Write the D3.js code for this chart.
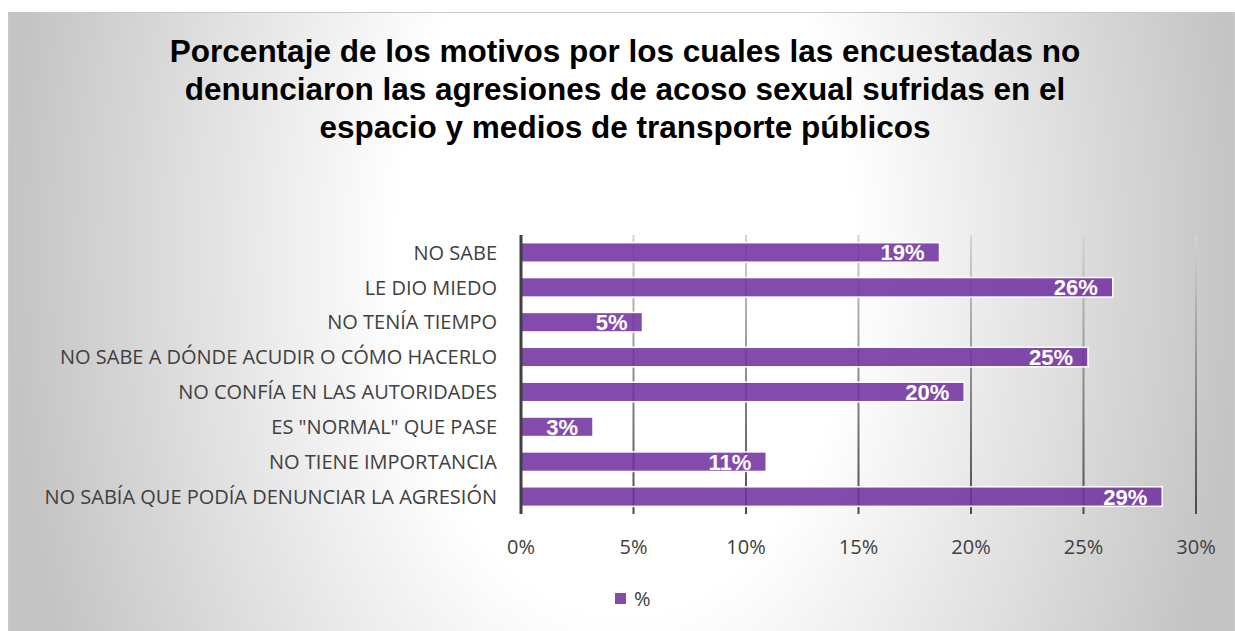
<!DOCTYPE html>
<html>
<head>
<meta charset="utf-8">
<script src="https://cdn.jsdelivr.net/npm/d3@7"></script>
<style>
  body { margin: 0; background: #fff; }
  svg { display: block; }
</style>
</head>
<body>
<svg width="1235" height="631"></svg>
<script>
var categories = [
    "NO SABE",
    "LE DIO MIEDO",
    "NO TENÍA TIEMPO",
    "NO SABE A DÓNDE ACUDIR O CÓMO HACERLO",
    "NO CONFÍA EN LAS AUTORIDADES",
    "ES \"NORMAL\" QUE PASE",
    "NO TIENE IMPORTANCIA",
    "NO SABÍA QUE PODÍA DENUNCIAR LA AGRESIÓN"
]
var values = [18.6, 26.3, 5.4, 25.2, 19.7, 3.2, 10.9, 28.5]
var ticks = [0, 5, 10, 15, 20, 25, 30]
var titleLines = [
    "Porcentaje de los motivos por los cuales las encuestadas no",
    "denunciaron las agresiones de acoso sexual sufridas en el",
    "espacio y medios de transporte públicos"
]
var seriesName = "%"

var svg = d3.select('svg'),
    width = 1235,
    height = 631,
    purple = '#7030a0',
    labelFont = '"Open Sans", sans-serif',
    boldFont = '"Liberation Sans", Arial, sans-serif'

var defs = svg.append('defs')

// background of the chart area: light in the middle, grey towards the edges
var bg = defs.append('radialGradient')
    .attr('id', 'bg')
    .attr('gradientUnits', 'userSpaceOnUse')
    .attr('cx', 625).attr('cy', 250).attr('r', 614)
    .attr('fx', 625).attr('fy', 250)
    .attr('gradientTransform', 'translate(625 250) scale(1 1.6) translate(-625 -250)')
bg.append('stop').attr('offset', 0).attr('stop-color', '#ffffff')
bg.append('stop').attr('offset', 0.37).attr('stop-color', '#ffffff')
bg.append('stop').attr('offset', 1).attr('stop-color', '#c4c4c4')

var x = d3.scaleLinear().domain([0, 30]).range([521, 1196])
var y = d3.scaleBand().domain(categories).range([235, 514])
    .paddingInner(0.44).paddingOuter(0.22)

var grid = defs.append('linearGradient')
    .attr('id', 'grid')
    .attr('gradientUnits', 'userSpaceOnUse')
    .attr('x1', 0).attr('y1', 235).attr('x2', 0).attr('y2', 514)
grid.append('stop').attr('offset', 0).attr('stop-color', '#d4d4d4')
grid.append('stop').attr('offset', 1).attr('stop-color', '#4a4a4a')

svg.append('rect')
    .attr('x', 8.5).attr('y', 12.5)
    .attr('width', width - 9).attr('height', height - 12)
    .attr('fill', 'url(#bg)')
    .attr('stroke', '#c8c8c8')

// title
svg.append('text')
    .attr('text-anchor', 'middle')
    .style('font-family', boldFont)
    .style('font-weight', 'bold')
    .style('font-size', '31.5px')
    .attr('fill', '#000')
    .selectAll('tspan')
    .data(titleLines)
    .enter().append('tspan')
    .attr('x', 625)
    .attr('y', (d, i) => 62 + i * 38)
    .text(d => d)

// gridlines
svg.append('g')
    .selectAll('line')
    .data(ticks.slice(1))
    .enter().append('line')
    .attr('x1', d => x(d)).attr('x2', d => x(d))
    .attr('y1', 235).attr('y2', 514)
    .attr('stroke', 'url(#grid)')
    .attr('stroke-width', 2)

// tick labels
svg.append('g')
    .selectAll('text')
    .data(ticks)
    .enter().append('text')
    .attr('x', d => x(d))
    .attr('y', 554)
    .attr('text-anchor', 'middle')
    .style('font-family', labelFont)
    .style('font-size', '20px')
    .attr('fill', '#404040')
    .text(d => d + '%')

// bars
var bar = svg.append('g')
    .selectAll('g')
    .data(values)
    .enter().append('g')

bar.append('rect')
    .attr('x', x(0))
    .attr('y', (d, i) => y(categories[i]))
    .attr('width', d => x(d) - x(0))
    .attr('height', y.bandwidth())
    .attr('fill', purple)
    .attr('fill-opacity', 0.87)
    .attr('stroke', '#fff')
    .attr('stroke-width', 1.5)

bar.append('text')
    .attr('x', d => x(d) - 15)
    .attr('y', (d, i) => y(categories[i]) + y.bandwidth() / 2 + 8)
    .attr('text-anchor', 'end')
    .style('font-family', boldFont)
    .style('font-weight', 'bold')
    .style('font-size', '22px')
    .attr('fill', '#fff')
    .text(d => Math.round(d) + '%')

// category labels
svg.append('g')
    .selectAll('text')
    .data(categories)
    .enter().append('text')
    .attr('x', 497)
    .attr('y', d => y(d) + y.bandwidth() / 2)
    .attr('dy', '0.36em')
    .attr('text-anchor', 'end')
    .style('font-family', labelFont)
    .style('font-size', '20px')
    .attr('fill', '#404040')
    .text(d => d)

// value axis line
svg.append('line')
    .attr('x1', x(0)).attr('x2', x(0))
    .attr('y1', 235).attr('y2', 514)
    .attr('stroke', '#404040')
    .attr('stroke-width', 3)

// legend
var legend = svg.append('g').attr('transform', 'translate(600,576)')
legend.append('rect')
    .attr('width', 53).attr('height', 46)
    .attr('fill', '#fff').attr('fill-opacity', 0.35)
legend.append('rect')
    .attr('x', 15).attr('y', 17)
    .attr('width', 11).attr('height', 11)
    .attr('fill', purple).attr('fill-opacity', 0.87)
legend.append('text')
    .attr('x', 34).attr('y', 30)
    .style('font-family', labelFont)
    .style('font-size', '20px')
    .attr('fill', '#404040')
    .text(seriesName)
</script>
</body>
</html>
